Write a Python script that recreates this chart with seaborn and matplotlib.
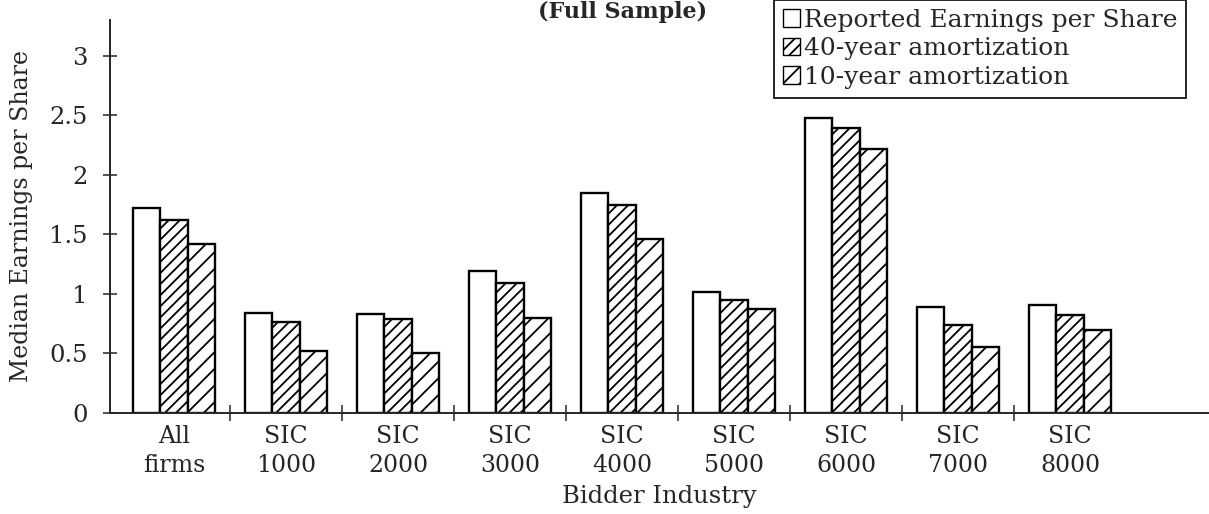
import pandas as pd
import matplotlib.pyplot as plt
import seaborn as sns
from matplotlib.patches import Patch

# ────────── data ───────────────────────────────────────────────────────────────
industries = ["All\nfirms", "SIC\n1000", "SIC\n2000", "SIC\n3000", "SIC\n4000",
              "SIC\n5000", "SIC\n6000", "SIC\n7000", "SIC\n8000"]
measures = ["Reported Earnings per Share", "40-year amortization", "10-year amortization"]
reported = [1.72, 0.84, 0.83, 1.19, 1.85, 1.02, 2.48, 0.89, 0.91]
amort_40 = [1.62, 0.76, 0.79, 1.09, 1.75, 0.95, 2.39, 0.74, 0.82]
amort_10 = [1.42, 0.52, 0.50, 0.80, 1.46, 0.87, 2.22, 0.55, 0.70]
y_ticks = [0, 0.5, 1, 1.5, 2, 2.5, 3]
y_tick_labels = ["0", "0.5", "1", "1.5", "2", "2.5", "3"]

hatches = ["", "///", "//"]

df = pd.DataFrame({
    "industry": industries * 3,
    "measure": [m for m in measures for _ in industries],
    "eps": reported + amort_40 + amort_10,
})

# ────────── style ──────────────────────────────────────────────────────────────
sns.set_style("ticks")
plt.rcParams["font.family"] = ["DejaVu Serif"]
plt.rcParams["hatch.linewidth"] = 1.3
plt.rcParams["hatch.color"] = "black"

fig = plt.figure(figsize=(12.09, 5.14), dpi=100)
ax = fig.add_axes([0.091, 0.1965, 0.909, 0.7646])

sns.barplot(
    data=df, x="industry", y="eps", hue="measure",
    palette=["white"] * 3, edgecolor="black", linewidth=1.7,
    width=0.735, saturation=1, legend=False, ax=ax,
)
for cont, h in zip(ax.containers, hatches):
    for bar in cont:
        bar.set_hatch(h)
        bar.set_facecolor("white")
        bar.set_edgecolor("black")

ax.set_xlim(-0.571, 9.24)
ax.set_ylim(0, 3.3)
ax.set_yticks(y_ticks)
ax.set_yticklabels(y_tick_labels, fontsize=17.5)
ax.tick_params(axis="y", direction="inout", length=10, width=1.1, pad=11)
ax.tick_params(axis="x", which="major", length=0, pad=9, labelsize=17)
ax.set_xticks([i + 0.5 for i in range(len(industries) - 1)], minor=True)
ax.tick_params(axis="x", which="minor", direction="inout", length=12, width=1.1)
for lab in ax.get_xticklabels():
    lab.set_linespacing(1.3)

for side in ("top", "right"):
    ax.spines[side].set_visible(False)
for side in ("left", "bottom"):
    ax.spines[side].set_linewidth(1.4)

ax.set_xlabel("Bidder Industry", fontsize=17.5, labelpad=6)
ax.set_ylabel("Median Earnings per Share", fontsize=17, labelpad=12)

handles = [Patch(facecolor="white", edgecolor="black", hatch=h, linewidth=1.0) for h in hatches]
leg = fig.legend(
    handles, measures, loc="upper right", bbox_to_anchor=(1186 / 1209, 1.0),
    fontsize=18, frameon=True, fancybox=False, framealpha=1, edgecolor="black",
    handlelength=0.7, handleheight=0.7, handletextpad=0.15, borderpad=0.35,
    labelspacing=0.22, borderaxespad=0,
)
leg.get_frame().set_linewidth(1.2)

fig.text(0.515, 0.965, "(Full Sample)", ha="center", va="baseline",
         fontsize=16, fontweight="bold")

fig.savefig("out.png", dpi=100)
